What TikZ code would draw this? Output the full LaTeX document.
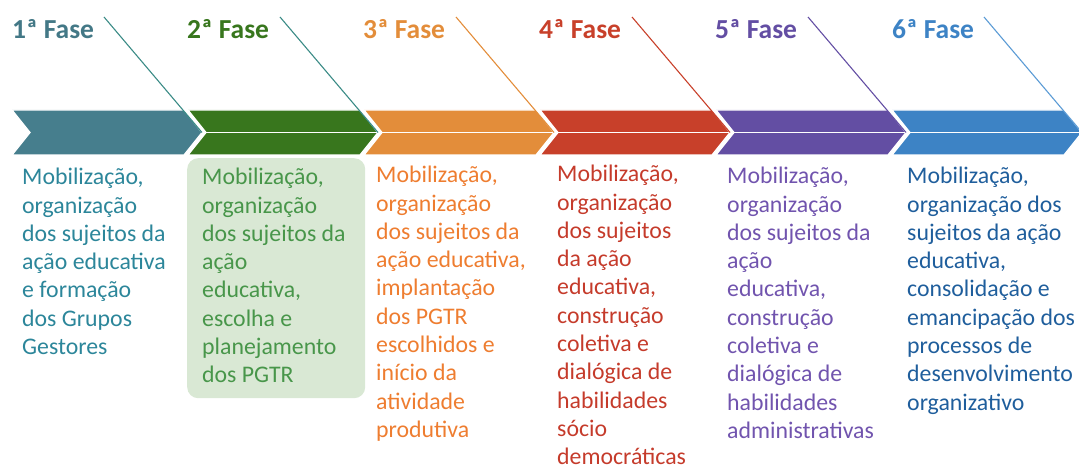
\documentclass[tikz,border=0pt]{standalone}
\usepackage{fontspec}
\setmainfont{Carlito}
\definecolor{cA}{HTML}{467E8D}
\definecolor{cB}{HTML}{38761D}
\definecolor{cC}{HTML}{E38D3A}
\definecolor{cD}{HTML}{C8402A}
\definecolor{cE}{HTML}{634EA3}
\definecolor{cF}{HTML}{3D83C5}
\definecolor{tA}{HTML}{2C869A}
\definecolor{tB}{HTML}{48964A}
\definecolor{tC}{HTML}{EE7D30}
\definecolor{tD}{HTML}{C53B2B}
\definecolor{tE}{HTML}{7154AE}
\definecolor{tF}{HTML}{1F5E9C}
\definecolor{lineA}{HTML}{3A8B86}
\definecolor{lineF}{HTML}{5B9BD5}
\definecolor{boxB}{HTML}{D9E8D4}
\begin{document}
\begin{tikzpicture}[x=1pt,y=-1pt,
  header/.style={anchor=base west,inner sep=0pt,font=\fontsize{27.5}{31}\selectfont\bfseries},
  body/.style={anchor=north west,inner sep=0pt,align=left,font=\fontsize{23.8}{28.3}\selectfont},
  chev/.style={draw=white,line width=1.3pt,line join=miter},
  split/.style={draw=white,line width=1.3pt},
  pointer/.style={line width=1.1pt}]
\useasboundingbox (0,0) rectangle (1079,470);
% green highlight box
\node[fill=boxB,rounded corners=11pt,minimum width=178pt,minimum height=240pt,anchor=north west,inner sep=0pt] (box2) at (187,158) {};
% chevrons
\foreach \i/\x/\c in {1/12/cA,2/188/cB,3/364/cC,4/540/cD,5/716/cE,6/892/cF}{
  \fill[\c,chev] (\x,110) -- ++(172,0) -- ++(18,22.5) -- ++(-18,22.5) -- ++(-172,0) -- ++(18,-22.5) -- cycle;
  \coordinate (tip\i) at (\x+190,132.5);
  \coordinate (notch\i) at (\x+18,132.5);
  \coordinate (top\i) at (\x+92,17);
}
\foreach \i in {2,...,6}{\draw[split] (notch\i) -- (tip\i);}
% pointer lines
\draw[pointer,lineA] (top1) -- (tip1);
\draw[pointer,lineA] (top2) -- (tip2);
\draw[pointer,cC] (top3) -- (tip3);
\draw[pointer,cD] (top4) -- (tip4);
\draw[pointer,cE] (top5) -- (tip5);
\draw[pointer,lineF] (top6) -- (tip6);
% headers
\node[header,text=cA!95!black] (h1) at (12,39) {1ª Fase};
\node[header,text=cB] (h2) at (187,39) {2ª Fase};
\node[header,text=cC] (h3) at (363,39) {3ª Fase};
\node[header,text=cD] (h4) at (539,39) {4ª Fase};
\node[header,text=cE] (h5) at (715,39) {5ª Fase};
\node[header,text=cF] (h6) at (892,39) {6ª Fase};
% body texts
\node[body,text=tA] (b1) at (22,168) {Mobilização,\\organização\\dos sujeitos da\\ação educativa\\e formação\\dos Grupos\\Gestores};
\node[body,text=tB] (b2) at (202,168) {Mobilização,\\organização\\dos sujeitos da\\ação\\educativa,\\escolha e\\planejamento\\dos PGTR};
\node[body,text=tC] (b3) at (376,166) {Mobilização,\\organização\\dos sujeitos da\\ação educativa,\\implantação\\dos PGTR\\escolhidos e\\início da\\atividade\\produtiva};
\node[body,text=tD] (b4) at (557,165) {Mobilização,\\organização\\dos sujeitos\\da ação\\educativa,\\construção\\coletiva e\\dialógica de\\habilidades\\sócio\\democráticas};
\node[body,text=tE] (b5) at (727,167) {Mobilização,\\organização\\dos sujeitos da\\ação\\educativa,\\construção\\coletiva e\\dialógica de\\habilidades\\administrativas};
\node[body,text=tF] (b6) at (907,167) {Mobilização,\\organização dos\\sujeitos da ação\\educativa,\\consolidação e\\emancipação dos\\processos de\\desenvolvimento\\organizativo};
\end{tikzpicture}
\end{document}
